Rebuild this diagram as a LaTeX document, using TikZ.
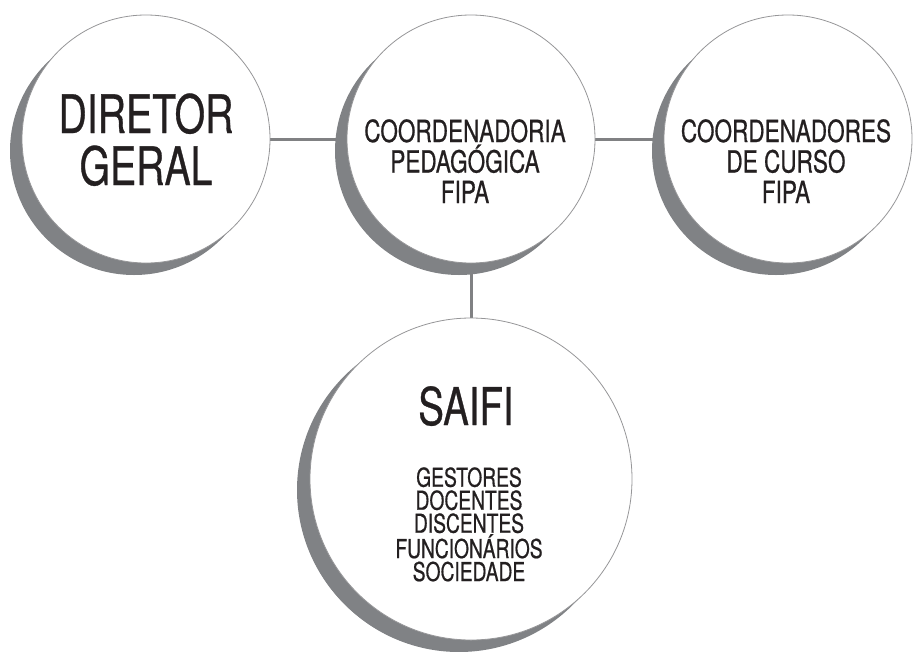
\documentclass[tikz,border=0pt]{standalone}
\usepackage{fontspec}
\setmainfont{TeX Gyre Heros}[FakeStretch=0.74, FakeBold=0.6]
\usetikzlibrary{shadows,backgrounds}

\definecolor{crescent}{RGB}{128,130,133}
\definecolor{rim}{RGB}{150,150,152}
\definecolor{linegray}{RGB}{128,129,131}
\definecolor{ink}{RGB}{35,31,32}

\tikzset{
  unit/.style={circle, draw=rim, line width=0.8pt, fill=white, inner sep=0pt,
    minimum size=#1,
    general shadow={fill=crescent, shadow xshift=-12pt, shadow yshift=-12pt}},
  connector/.style={draw=linegray, line width=3pt},
  caption/.style={text=ink, align=center, inner sep=0pt, anchor=base},
}

\begin{document}
\begin{tikzpicture}[x=1pt, y=-1pt]
    \useasboundingbox (0,0) rectangle (913,651);

    % the four units
    \node[unit=248pt] (diretor) at (146,139) {};
    \node[unit=248pt] (coord) at (471,139) {};
    \node[unit=248pt] (cursos) at (788,139) {};
    \node[unit=322pt, general shadow={fill=crescent, shadow xshift=-13pt, shadow yshift=-11pt}] (saifi) at (471,479) {};

    % connectors behind the circles
    \begin{scope}[on background layer]
        \draw[connector] (diretor) -- (coord);
        \draw[connector] (coord) -- (cursos);
        \draw[connector] (coord) -- (saifi);
    \end{scope}

    % texts (anchored at the baseline of the last line)
    \node[caption, font=\fontsize{53}{52}\selectfont] (diretortxt) at (146,185) {DIRETOR\\GERAL};
    \node[caption, font=\fontsize{30.5}{30.5}\selectfont] (coordtxt) at (465,203) {COORDENADORIA\\PEDAGÓGICA\\FIPA};
    \node[caption, font=\fontsize{30.5}{30.5}\selectfont] (cursostxt) at (786,203) {COORDENADORES\\DE CURSO\\FIPA};
    \node[caption, font=\fontsize{52}{52}\selectfont] (saifitxt) at (466,425) {SAIFI};
    \node[caption, font=\fontsize{26}{23}\selectfont] (membros) at (469,581) {GESTORES\\DOCENTES\\DISCENTES\\FUNCIONÁRIOS\\SOCIEDADE};
\end{tikzpicture}
\end{document}
